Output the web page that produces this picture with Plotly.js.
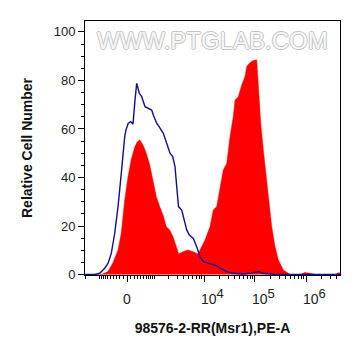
<!DOCTYPE html>
<html>
<head>
<meta charset="utf-8">
<script src="https://cdn.plot.ly/plotly-3.0.1.min.js"></script>
<style>html,body{margin:0;padding:0;background:#fff;}#chart{width:361px;height:356px;}</style>
</head>
<body>
<div id="chart"></div>
<script>
// x values are in biexponential display units (decades-like scale)
const redX = [-0.627,-0.504,-0.373,-0.275,-0.176,-0.112,-0.045,0.020,0.084,0.151,0.196,0.249,0.314,0.378,0.445,0.510,0.575,0.641,0.706,0.771,0.837,0.902,0.967,1.014,1.098,1.196,1.294,1.392,1.431,1.529,1.627,1.692,1.759,1.824,1.888,1.955,2.020,2.084,2.118,2.182,2.249,2.314,2.347,2.412,2.476,2.543,2.575,2.622,2.673,2.720,2.771,2.837,2.902,2.967,3.065,3.196,3.392,3.490,3.588,3.686,4.078,4.157,4.176];
const redY = [0,0,1.2,4.8,10.1,17.1,30.7,40.3,47.5,52.5,54.5,55.5,53.4,50,45.2,39,32.1,28,24.5,19.7,18.4,15.6,11.5,8.5,9.4,10.1,9.4,8.5,10.1,14.2,19.7,26.6,28,36.2,43.1,45.8,56.8,65.1,71.9,73.3,78.1,81.6,85.7,87.4,88.2,88.5,76.1,62.4,51.3,41.7,30.7,19.7,11.5,6,1.9,0,0,0.8,0.5,0,0,0.8,0.5];

const blueX = [-0.823,-0.765,-0.633,-0.535,-0.437,-0.373,-0.308,-0.241,-0.176,-0.112,-0.078,-0.045,-0.020,0.025,0.073,0.118,0.157,0.190,0.241,0.288,0.353,0.418,0.484,0.516,0.582,0.647,0.712,0.778,0.843,0.896,0.941,0.975,1.010,1.073,1.118,1.171,1.222,1.300,1.367,1.431,1.496,1.594,1.692,1.759,1.824,1.955,2.084,2.280,2.476,2.575,2.673,2.869,3.131,4.176];
const blueY = [0,0,0,0.5,2.6,4.6,8.7,17,28,41.7,50,56.8,59.6,62.4,63,62,72,78.8,74.7,73.3,69.2,68.5,67.8,65.8,62.4,60.3,58.2,54.1,50,48.6,44.5,36.2,28,26.6,22.5,18.4,16.3,14.9,11.5,7.3,5.3,4.6,3.9,3.6,2.6,1.2,0.5,0.2,0.7,1.2,0.5,0.1,0,0];

const majorTickValues = [0, 1e4, 1e5, 1e6];
const pad = '\u2003\u2009';
const majorTickText = ['0', pad + '10<sup><span style="font-size:13px">4</span></sup>', pad + '10<sup><span style="font-size:13px">5</span></sup>', pad + '10<sup><span style="font-size:13px">6</span></sup>'];
const minorTickValues = [-2000,-1000,-900,-800,-700,-600,-500,-400,-300,-200,-100,
  100,200,300,400,500,600,700,800,900,1000,2000,3000,4000,5000,6000,7000,8000,9000,
  2e4,3e4,4e4,5e4,6e4,7e4,8e4,9e4,2e5,3e5,4e5,5e5,6e5,7e5,8e5,9e5,2e6,3e6,4e6];

// biexponential-like display transform (arcsinh)
const W = 619;
function disp(v){ return Math.asinh(v / W) / Math.LN10; }

const traces = [
  {x: redX, y: redY, type: 'scatter', mode: 'lines', fill: 'tozeroy',
   fillcolor: '#ff0000', line: {color: '#ff0000', width: 0.5}, hoverinfo: 'skip'},
  {x: blueX, y: blueY, type: 'scatter', mode: 'lines',
   line: {color: '#10108e', width: 1.4}, hoverinfo: 'skip'}
];

const layout = {
  width: 361, height: 356,
  margin: {l: 85, r: 21, t: 21, b: 81},
  paper_bgcolor: '#ffffff', plot_bgcolor: '#ffffff',
  showlegend: false,
  font: {family: 'Liberation Sans, Arial, sans-serif', color: '#222'},
  xaxis: {
    range: [-0.8235, 4.176],
    showgrid: false, zeroline: false,
    showline: true, mirror: true, linecolor: '#000', linewidth: 1,
    tickmode: 'array',
    tickvals: majorTickValues.map(disp),
    ticktext: majorTickText,
    ticks: 'outside', ticklen: 6, tickcolor: '#000', tickwidth: 1,
    tickfont: {size: 14, color: '#222'},
    ticklabelstandoff: 5,
    minor: {tickmode: 'array', tickvals: minorTickValues.map(disp), ticks: 'outside', ticklen: 3, tickcolor: '#000', tickwidth: 1},
    title: {text: '<b>98576-2-RR(Msr1),PE-A</b>', font: {size: 14, color: '#111'}, standoff: 17}
  },
  yaxis: {
    range: [-0.2, 104.5],
    showgrid: false, zeroline: false,
    showline: true, mirror: true, linecolor: '#000', linewidth: 1,
    tickmode: 'array', tickvals: [0,20,40,60,80,100],
    ticks: 'outside', ticklen: 6, tickcolor: '#000', tickwidth: 1,
    tickfont: {size: 13, color: '#222'},
    minor: {tickmode: 'array', tickvals: [5,10,15,25,30,35,45,50,55,65,70,75,85,90,95], ticks: 'outside', ticklen: 3, tickcolor: '#000', tickwidth: 1},
    title: {text: '<b>Relative Cell Number</b>', font: {size: 14, color: '#111'}, standoff: 17}
  },
  annotations: [{
    text: 'WWW.PTGLAB.COM', xref: 'paper', yref: 'paper', x: 0.5, y: 0.925,
    xanchor: 'center', yanchor: 'middle', showarrow: false,
    font: {family: 'Liberation Sans, Arial, sans-serif', size: 24, color: '#f6f6f6',
           shadow: '-1px 0 0 #c4c4c4, 1px 0 0 #c4c4c4, 0 1px 0 #c4c4c4, 0 -1px 0 #c4c4c4'}
  }]
};

Plotly.newPlot('chart', traces, layout, {staticPlot: true, displayModeBar: false});
</script>
</body>
</html>
